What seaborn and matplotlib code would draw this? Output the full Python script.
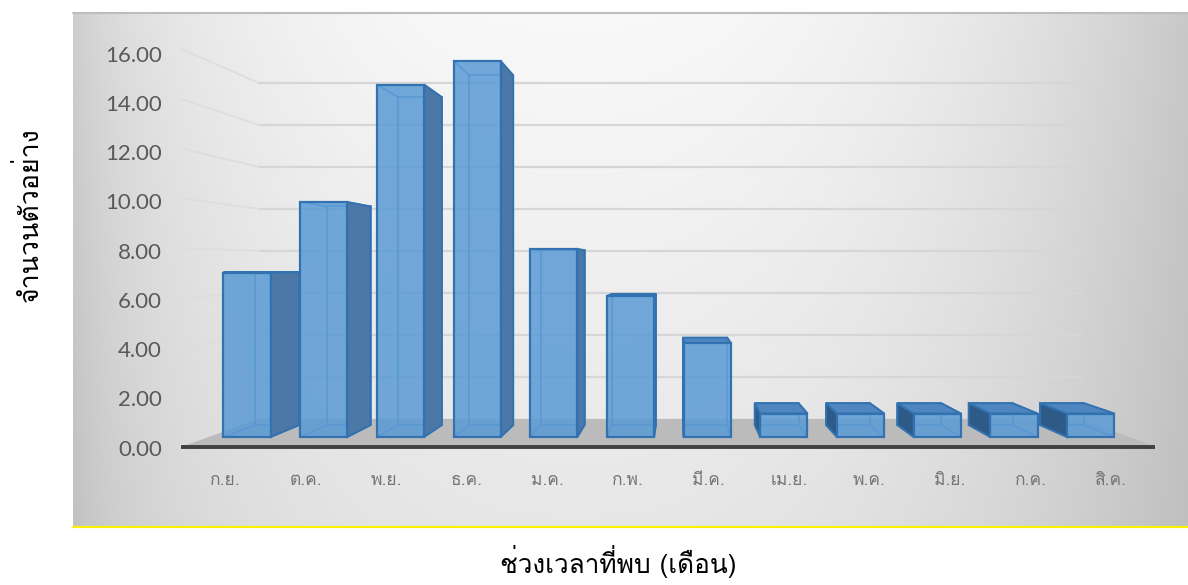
import numpy as np
import matplotlib
matplotlib.use("Agg")
import matplotlib.pyplot as plt
import seaborn as sns
from matplotlib import font_manager
from matplotlib.ft2font import FT2Font
from matplotlib.patches import Polygon

# ---- data -------------------------------------------------------------
months = ["ก.ย.", "ต.ค.", "พ.ย.", "ธ.ค.", "ม.ค.", "ก.พ.", "มี.ค.",
          "เม.ย.", "พ.ค.", "มิ.ย.", "ก.ค.", "สิ.ค."]
counts = [7, 10, 15, 16, 8, 6, 4, 1, 1, 1, 1, 1]
y_ticks = [0, 2, 4, 6, 8, 10, 12, 14, 16]
x_title = "ช่วงเวลาที่พบ (เดือน)"
y_title = "จำนวนตัวอย่าง"

sns.set_theme(style="white")


def thai_capable_fonts():
    names = []
    for entry in font_manager.fontManager.ttflist:
        try:
            if FT2Font(entry.fname).get_char_index(0x0E01):
                names.append(entry.name)
        except Exception:
            continue
    return sorted(set(names))


thai_fonts = thai_capable_fonts()
preferred = ["Loma", "Noto Sans Thai Looped", "IBM Plex Sans Thai Looped",
             "Garuda", "Sarabun", "Noto Sans Thai"]
thai_family = next((f for f in preferred if f in thai_fonts),
                   thai_fonts[0] if thai_fonts else "DejaVu Sans")
num_family = "Lato"
plt.rcParams["font.family"] = [thai_family, "DejaVu Sans"]

W, H = 1188, 585
fig = plt.figure(figsize=(W / 100, H / 100), dpi=100)
fig.patch.set_facecolor("white")


def rect(l, t, r, b):
    return [l / W, 1 - b / H, (r - l) / W, (b - t) / H]


# ---- chart area background -------------------------------------------
PANEL = (73, 12, 1188, 526)
ax_bg = fig.add_axes([0, 0, 1, 1], zorder=-5)
ax_bg.set_xlim(0, W)
ax_bg.set_ylim(H, 0)
ax_bg.set_axis_off()
pw, ph = PANEL[2] - PANEL[0], PANEL[3] - PANEL[1]
u = np.linspace(0, 1, pw)[None, :]
v = np.linspace(0, 1, ph)[:, None]
dist = np.abs((u - 0.45) / 0.55) ** 2.4
shade = 0.975 - 0.19 * dist - 0.07 * v * (1 - 0.5 * dist) - 0.05 * np.exp(-u / 0.04)
shade = np.clip(shade, 0, 1)
ax_bg.imshow(np.dstack([shade] * 3), extent=(PANEL[0], PANEL[2], PANEL[3], PANEL[1]),
             aspect="auto", interpolation="bilinear")
ax_bg.plot([PANEL[0], PANEL[2]], [PANEL[1] + 1, PANEL[1] + 1], color="#BDBDBD", lw=1.5)
ax_bg.plot([PANEL[0], PANEL[2]], [PANEL[3] + 1, PANEL[3] + 1], color="#FFF000", lw=1.6)

# ---- plotting region (front plane of the bars) -----------------------
PL, PT, PR, PB = 170.3, 40, 1167.4, 448
ax_t = fig.add_axes(rect(PL, PT, PR, PB), zorder=1)
ax = fig.add_axes(rect(PL, PT, PR, PB), zorder=2)

# tick / label axes
ax_t.set_xlim(-0.686, 11.70)
ax_t.set_ylim(-0.02, 16.55)
ax_t.set_facecolor("none")
for sp in ax_t.spines.values():
    sp.set_visible(False)
ax_t.set_yticks(y_ticks)
ax_t.set_yticklabels([f"{t:.2f}" for t in y_ticks], fontsize=16,
                     family=num_family, color="#595959")
ax_t.set_xticks(range(len(months)))
ax_t.set_xticklabels(months, fontsize=12.5, color="#767676")
ax_t.tick_params(axis="y", length=0, pad=6)
ax_t.tick_params(axis="x", length=0, pad=18)
ax_t.grid(False)

# bars: front faces through seaborn
sns.barplot(x=months, y=counts, order=months, color="#5B9BD5", saturation=1,
            width=0.615, edgecolor="#3372B0", linewidth=1.6, ax=ax)
ax.set_xlim(-1, 12)
ax.set_ylim(-0.468, 16.894)
ax.set_axis_off()

# perspective: vanishing point and depth factors in data units
XV, YV = 5.645, 7.277
S_FRONT, S_BAR, S_WALL = 1.058, 0.93, 0.894


def proj(points, s):
    return [(XV + s * (x - XV), YV + s * (y - YV)) for x, y in points]


cat_lo, cat_hi = -0.5, len(months) - 0.5

# floor
floor = proj([(cat_lo, 0), (cat_hi, 0)], S_FRONT) + proj([(cat_hi, 0), (cat_lo, 0)], S_WALL)
ax.add_patch(Polygon(floor, closed=True, facecolor="#BBBBBB", edgecolor="none",
                     zorder=1, clip_on=False))
(fx0, fy0), (fx1, fy1) = floor[0], floor[1]
ax.plot([fx0, fx1], [fy0, fy1], color="#404040", lw=2.8, solid_capstyle="butt",
        zorder=1.5, clip_on=False)

# back-wall gridlines and their side-wall continuation
for t in y_ticks[1:]:
    (bx0, by0), (bx1, by1) = proj([(cat_lo, t), (cat_hi, t)], S_WALL)
    ax.plot([bx0, bx1], [by0, by1], color="#D6D6D6", lw=1.6, zorder=0.5, clip_on=False)
    (sx0, sy0) = proj([(cat_lo, t)], S_FRONT)[0]
    ax.plot([sx0, bx0], [sy0, by0], color="#DDDDDD", lw=1.2, zorder=0.5, clip_on=False)

# 3-D box shading for each bar
edge_col = "#3372B0"
for p in ax.patches[:len(counts)]:
    x0, w, h = p.get_x(), p.get_width(), p.get_height()
    x1 = x0 + w
    F = [(x0, 0), (x1, 0), (x1, h), (x0, h)]
    B = proj(F, S_BAR)
    # hidden edges seen through the translucent box
    bx, by = zip(*(B + [B[0]]))
    ax.plot(bx, by, color="#4A86C4", lw=1.1, zorder=2, clip_on=False)
    for fpt, bpt in zip(F, B):
        ax.plot([fpt[0], bpt[0]], [fpt[1], bpt[1]], color="#4A86C4", lw=1.1,
                zorder=2, clip_on=False)
    if x1 < XV:
        ax.add_patch(Polygon([F[1], F[2], B[2], B[1]], closed=True, facecolor="#4B78A6",
                             edgecolor=edge_col, lw=1.4, zorder=3, clip_on=False))
    elif x0 > XV:
        ax.add_patch(Polygon([F[0], F[3], B[3], B[0]], closed=True, facecolor="#2E5A87",
                             edgecolor=edge_col, lw=1.4, zorder=3, clip_on=False))
    if h < YV:
        ax.add_patch(Polygon([F[3], F[2], B[2], B[3]], closed=True, facecolor="#4F86BF",
                             edgecolor=edge_col, lw=1.4, zorder=3, clip_on=False))
    p.set_facecolor((0x5B / 255, 0x9B / 255, 0xD5 / 255, 0.86))
    p.set_zorder(4)
    p.set_clip_on(False)

# axis titles
ylab = fig.text(29 / W, 1 - 215 / H, y_title, rotation=90, ha="center", va="center",
                fontsize=16, color="black")
xlab = fig.text(618 / W, 1 - 562 / H, x_title, ha="center", va="center",
                fontsize=18, color="black")

fig.canvas.draw()
rend = fig.canvas.get_renderer()
for txt, target, dim in ((ylab, 175, "height"), (xlab, 237, "width")):
    ext = txt.get_window_extent(rend)
    cur = ext.height if dim == "height" else ext.width
    txt.set_fontsize(txt.get_fontsize() * target / cur)

fig.savefig("out.png", dpi=100, facecolor="white")
